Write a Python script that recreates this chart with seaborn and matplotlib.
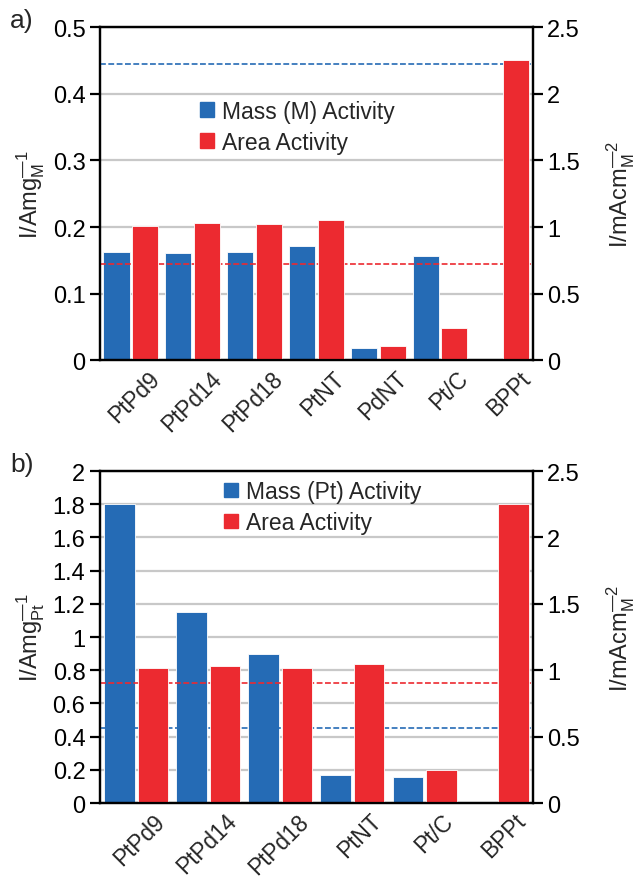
import matplotlib
matplotlib.use("Agg")
import matplotlib.pyplot as plt
import matplotlib.transforms as mtransforms
import seaborn as sns
import pandas as pd

# panel a data
cats_a = ["PtPd9", "PtPd14", "PtPd18", "PtNT", "PdNT", "Pt/C", "BPPt"]
mass_a = [0.162, 0.161, 0.162, 0.171, 0.018, 0.156, 0.0]      # A/mg_M (left)
area_a = [1.01, 1.03, 1.02, 1.05, 0.107, 0.24, 2.25]          # mA/cm2 (right)
ref_mass_a = 0.444
ref_area_a = 0.145

# panel b data
cats_b = ["PtPd9", "PtPd14", "PtPd18", "PtNT", "Pt/C", "BPPt"]
mass_b = [1.80, 1.15, 0.90, 0.17, 0.157, 0.0]                 # A/mg_Pt (left)
area_b = [1.013, 1.03, 1.02, 1.05, 0.248, 2.25]               # mA/cm2 (right)
ref_mass_b = 0.45
ref_area_b = 0.721

BLUE = "#256BB5"
RED = "#EC2A30"
FS = 17

sns.set_style("white")
plt.rcParams["font.family"] = ["Liberation Sans", "DejaVu Sans"]
plt.rcParams["mathtext.fontset"] = "custom"
plt.rcParams["mathtext.rm"] = "Liberation Sans"

fig = plt.figure(figsize=(6.35, 8.79), dpi=100)
ax_a = fig.add_axes([0.1575, 0.589, 0.6815, 0.379])
ax_b = fig.add_axes([0.1575, 0.0853, 0.6815, 0.3777])


def draw_panel(ax, cats, mass, area, ref_mass, ref_area, ylim_l, step_l,
               mass_label, ylabel_l, legend_xy):
    hue_order = [mass_label, "Area Activity"]
    df_l = pd.DataFrame({"cat": cats, "val": mass, "series": mass_label})
    df_r = pd.DataFrame({"cat": cats, "val": area, "series": "Area Activity"})
    palette = {mass_label: BLUE, "Area Activity": RED}

    sns.barplot(data=df_l, x="cat", y="val", hue="series", hue_order=hue_order,
                order=cats, palette=palette, width=0.93, gap=0.09, dodge=True,
                saturation=1, edgecolor="white", linewidth=0.6, ax=ax, legend=False)
    ax2 = ax.twinx()
    sns.barplot(data=df_r, x="cat", y="val", hue="series", hue_order=hue_order,
                order=cats, palette=palette, width=0.93, gap=0.09, dodge=True,
                saturation=1, edgecolor="white", linewidth=0.6, ax=ax2, legend=False)

    ax.set_ylim(0, ylim_l)
    ax.set_yticks([round(i * step_l, 2) for i in range(int(round(ylim_l / step_l)) + 1)])
    ax.set_yticklabels([f"{t:g}" for t in ax.get_yticks()])
    ax2.set_ylim(0, 2.5)
    ax2.set_yticks([0, 0.5, 1, 1.5, 2, 2.5])
    ax2.set_yticklabels(["0", "0.5", "1", "1.5", "2", "2.5"])
    ax.set_xlim(-0.5, len(cats) - 0.5)

    ax.yaxis.grid(True, color="#C8C8C8", linewidth=1.6)
    ax.set_axisbelow(True)

    ax.axhline(ref_mass, color=BLUE, linestyle=(0, (3.5, 1.5)), linewidth=1.2, zorder=5)
    ax.axhline(ref_area, color=RED, linestyle=(0, (3.5, 1.5)), linewidth=1.2, zorder=5)

    for a in (ax, ax2):
        for s in a.spines.values():
            s.set_color("black")
            s.set_linewidth(1.6)
        a.tick_params(axis="y", direction="out", length=7, width=1.6,
                      labelsize=FS, colors="black")
    ax.tick_params(axis="x", length=0, labelsize=16.3, pad=6)
    ax2.tick_params(left=False, right=True)
    ax.tick_params(left=True)

    ax.set_xlabel("")
    ax.set_ylabel(ylabel_l, fontsize=FS, labelpad=4)
    ax2.set_ylabel("I/mAcm$_\\mathregular{M}^{\\mathregular{\u2014}2}$",
                   fontsize=FS, labelpad=17)
    shift = mtransforms.ScaledTranslation(0.25, -0.06, fig.dpi_scale_trans)
    for lbl in ax.get_xticklabels():
        lbl.set_rotation(45)
        lbl.set_ha("right")
        lbl.set_va("center")
        lbl.set_rotation_mode("anchor")
        lbl.set_transform(lbl.get_transform() + shift)

    handles = [plt.Rectangle((0, 0), 1, 1, color=BLUE),
               plt.Rectangle((0, 0), 1, 1, color=RED)]
    ax2.legend(handles, hue_order, loc="upper left", bbox_to_anchor=legend_xy,
               frameon=False, fontsize=FS - 0.5, handlelength=0.6, handleheight=0.6,
               handletextpad=0.35, labelspacing=0.35, borderaxespad=0)
    return ax2


draw_panel(ax_a, cats_a, mass_a, area_a, ref_mass_a, ref_area_a, 0.5, 0.1,
           "Mass (M) Activity", "I/Amg$_\\mathregular{M}^{\\mathregular{\u2014}1}$",
           (0.21, 0.81))
draw_panel(ax_b, cats_b, mass_b, area_b, ref_mass_b, ref_area_b, 2.0, 0.2,
           "Mass (Pt) Activity", "I/Amg$_\\mathregular{Pt}^{\\mathregular{\u2014}1}$",
           (0.265, 1.0))

fig.text(0.016, 0.976, "a)", fontsize=19, va="center")
fig.text(0.016, 0.471, "b)", fontsize=19, va="center")

fig.savefig("out.png", dpi=100)
